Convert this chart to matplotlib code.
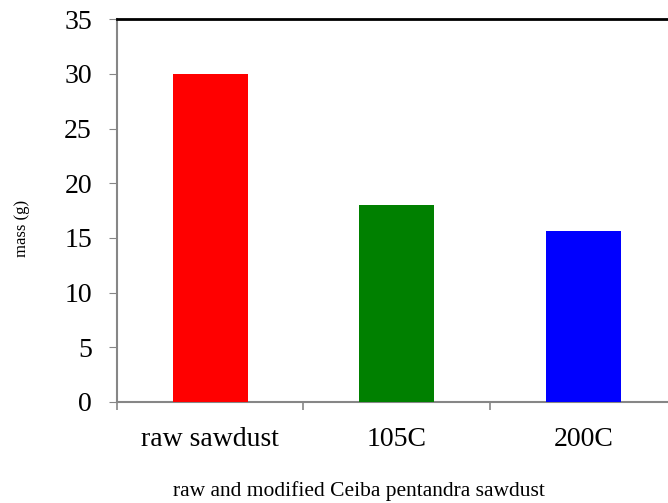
import matplotlib.pyplot as plt
import numpy as np

categories = ['raw sawdust', '105C', '200C']
mass = [30.0, 18.0, 15.6]
colors = ['#ff0000', '#008000', '#0000ff']

plt.rcParams['font.family'] = ['Liberation Serif', 'DejaVu Serif']

fig = plt.figure(figsize=(6.68, 5.03), dpi=100)
ax = fig.add_axes([0.175, 0.2008, 0.838, 0.7608])

x = np.arange(len(categories))
ax.bar(x, mass, width=0.40, color=colors, zorder=3)

ax.set_xlim(-0.5, 2.5)
ax.set_ylim(0, 35)
ax.set_yticks(range(0, 36, 5))
ax.tick_params(axis='y', labelsize=20, length=6, color='#868686', pad=12)

# category labels in the middle, tick marks on the boundaries
ax.set_xticks(x)
ax.set_xticklabels(categories)
ax.tick_params(axis='x', which='major', length=0, labelsize=20, pad=18)
ax.set_xticks(np.arange(-0.5, 2.6, 1), minor=True)
ax.tick_params(axis='x', which='minor', length=6, color='#868686', width=1.2)

for s in ['left', 'bottom']:
    ax.spines[s].set_color('#868686')
    ax.spines[s].set_linewidth(1.5)
ax.spines['top'].set_color('black')
ax.spines['top'].set_linewidth(2)
ax.spines['right'].set_visible(False)

fig.text(22 / 668, 1 - 228 / 503, 'mass (g)', fontsize=12, rotation=90,
         ha='center', va='center')
fig.text(359 / 668, 1 - 491 / 503, 'raw and modified Ceiba pentandra sawdust',
         fontsize=15.5, ha='center', va='center')

fig.savefig('out.png', dpi=100)
